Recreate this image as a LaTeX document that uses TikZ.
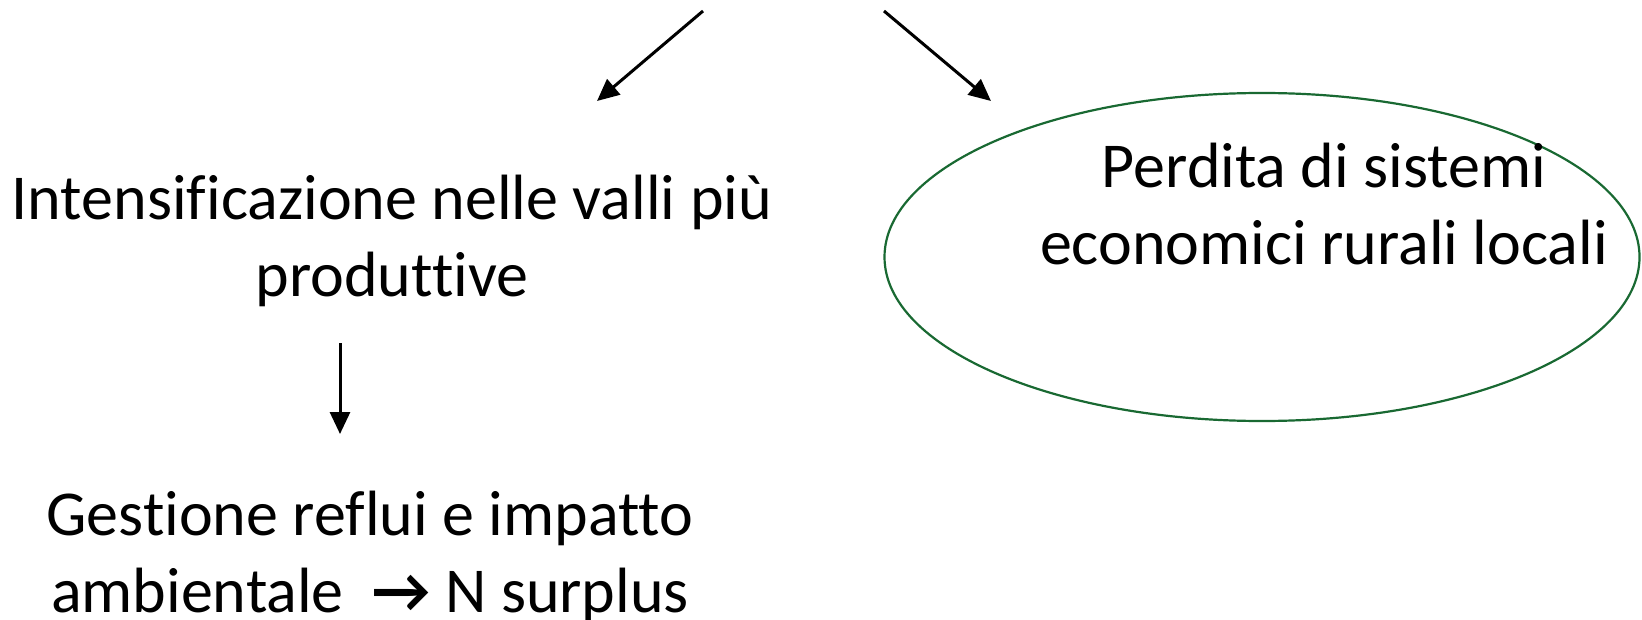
\documentclass[tikz,border=0pt]{standalone}
\usepackage{fontspec}
\setmainfont{Carlito}[Ligatures=NoCommon]
\usetikzlibrary{arrows.meta,shapes.geometric}
\definecolor{ovalgreen}{RGB}{25,105,50}
\tikzset{
  txt/.style={align=center, font=\fontsize{32}{38.5}\selectfont, inner sep=0pt},
  arr/.style={line width=1.5pt, -{Triangle[length=11pt,width=10pt]}}
}
\begin{document}
\begin{tikzpicture}[x=0.5pt,y=-0.5pt]
    \useasboundingbox (0,0) rectangle (1642,620);
    % oval on the right
    \node[ellipse, draw=ovalgreen, line width=1.1pt, minimum width=377.5pt, minimum height=164pt] (oval) at (1262,257) {};
    \node[txt, anchor=base] (perdita) at (1324,264) {Perdita di sistemi\\economici rurali locali};
    % left column
    \node[txt, anchor=base] (intens) at (392,296) {Intensificazione nelle valli più\\produttive};
    \node[txt, anchor=base] (gestione) at (370,612) {Gestione reflui e impatto\\ambientale \ \textbf{→} N surplus};
    % free ends of the arrows
    \coordinate (topl) at (703,11);
    \coordinate (topr) at (884,11);
    \coordinate (tipl) at (597,101);
    \coordinate (tipr) at (991,101);
    \coordinate (downs) at (340,343);
    \coordinate (downe) at (340,434);
    \draw[arr] (topl) -- (tipl);
    \draw[arr] (topr) -- (tipr);
    \draw[arr] (downs) -- (downe);
\end{tikzpicture}
\end{document}
